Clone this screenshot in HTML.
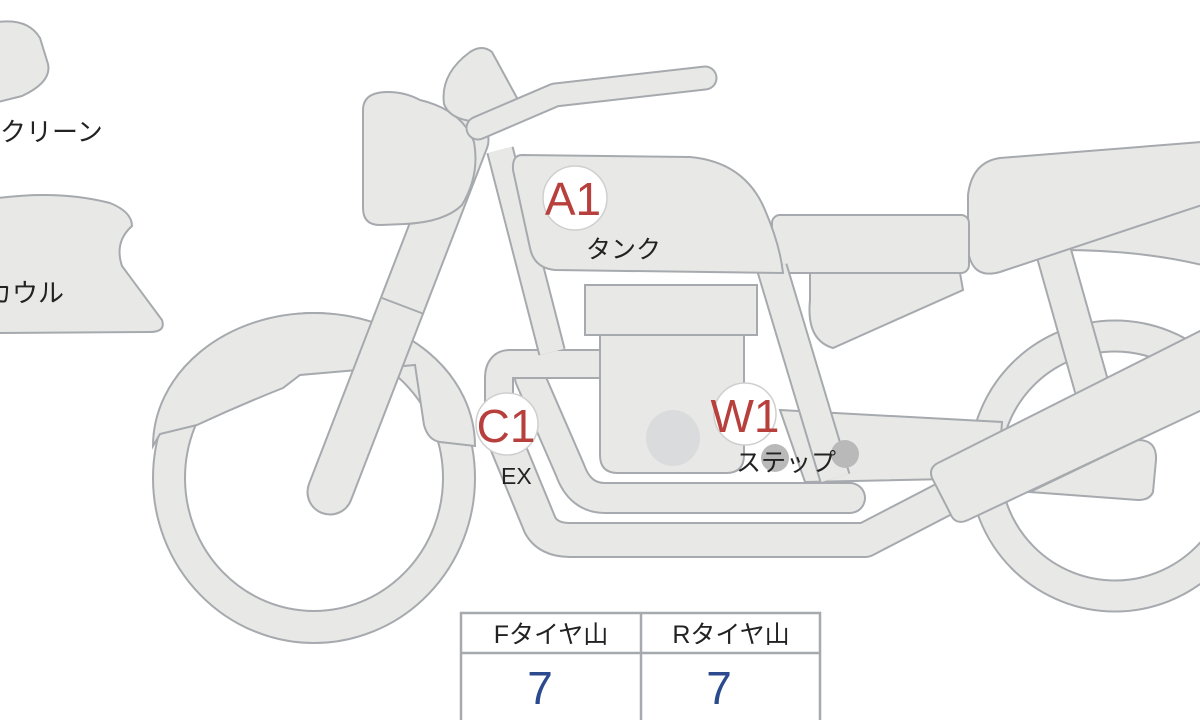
<!DOCTYPE html>
<html><head><meta charset="utf-8">
<style>
html,body{margin:0;padding:0;background:#fff;width:1200px;height:720px;overflow:hidden}
svg{display:block}
.f{fill:#e8e9e6;stroke:#a6aaae;stroke-width:2}
.o{fill:none;stroke:#a6aaae}
.i{fill:none;stroke:#e8e9e6}
.jp{font-family:"Liberation Sans","Noto Sans CJK JP",sans-serif;fill:#222}
.red{font-family:"Liberation Sans",sans-serif;fill:#b8403c}
</style></head><body>
<svg width="1200" height="720" viewBox="0 0 1200 720" xmlns="http://www.w3.org/2000/svg">
<!-- left parts -->
<path class="f" d="M-2,22 Q28,18 40,38 L48,64 Q52,82 22,96 L-2,102 Z"/>
<text class="jp" x="-26" y="141" font-size="26">スクリーン</text>
<path class="f" d="M-2,198 Q60,190 110,203 Q132,212 132,226 Q114,242 122,266 L162,320 Q166,332 150,332 L-2,333 Z"/>
<text class="jp" x="-14" y="302" font-size="26">カウル</text>

<!-- rear wheel -->
<circle class="o" cx="1115" cy="466" r="130" stroke-width="33"/>
<circle class="i" cx="1115" cy="466" r="130" stroke-width="29"/>
<!-- rear fender band -->
<path class="f" d="M1060,250 Q1140,250 1202,265 L1202,200 L1060,245 Z"/>
<!-- shock -->
<path class="o" d="M1053,250 L1092,388" stroke-width="37"/>
<path class="i" d="M1053,250 L1092,388" stroke-width="33"/>
<!-- seat -->
<path class="f" d="M1000,158 L1202,142 L1202,205 L1000,272 Q972,280 968,250 L968,195 Q972,162 1000,158 Z"/>
<!-- side cover -->
<rect class="f" x="772" y="215" width="197" height="58" rx="8"/>
<path class="f" d="M810,273 L960,273 L963,290 L833,348 Q806,340 810,300 Z"/>
<!-- footrest bracket -->
<path class="f" d="M780,410 L1002,422 L998,478 L805,482 Z"/>
<!-- wedge -->
<path class="f" d="M1030,492 L1138,440 Q1157,440 1156,460 L1153,492 Q1150,500 1138,500 Z"/>
<!-- outer exhaust band -->
<path class="o" d="M505,440 L540,525 Q548,540 570,540 L865,540 L1000,470" stroke-width="36" stroke-linejoin="round"/>
<path class="i" d="M505,440 L540,525 Q548,540 570,540 L865,540 L1000,470" stroke-width="32" stroke-linejoin="round"/>
<!-- swingarm -->
<path class="f" d="M940,462 L1202,330 L1202,410 L968,520 Q955,526 950,513 L932,478 Q928,467 940,462 Z"/>
<!-- frame tube right of engine -->
<path class="o" d="M772,268 L835,478" stroke-width="32"/>
<path class="i" d="M772,268 L835,478" stroke-width="28"/>
<!-- lower frame band -->
<path class="o" d="M530,378 L570,470 Q580,498 605,498 L850,498" stroke-width="32" stroke-linecap="round"/>
<path class="i" d="M530,378 L570,470 Q580,498 605,498 L850,498" stroke-width="28" stroke-linecap="round"/>
<!-- upper pipe -->
<path class="o" d="M605,364 L510,364 Q499,364 499,378 L499,445" stroke-width="30"/>
<path class="i" d="M605,364 L510,364 Q499,364 499,378 L499,445" stroke-width="26"/>
<!-- front frame tube -->
<path class="o" d="M500,150 L552,352" stroke-width="28"/>
<path class="i" d="M500,150 L552,352" stroke-width="24"/>
<!-- engine -->
<path class="f" d="M600,330 L744,330 L744,455 Q744,473 726,473 L618,473 Q600,473 600,455 Z"/>
<rect class="f" x="585" y="285" width="172" height="50"/>
<ellipse cx="673" cy="438" rx="27" ry="28" fill="#dadbdd"/>
<!-- front wheel -->
<ellipse class="o" cx="314" cy="478" rx="145" ry="149" stroke-width="34"/>
<ellipse class="i" cx="314" cy="478" rx="145" ry="149" stroke-width="30"/>
<!-- front fender -->
<path class="f" d="M153,446 A161,133 0 0 1 475,446 L440,442 Q428,440 424,425 L415,365 L300,375 L283,388 Q240,405 197,425 L160,434 Z"/>
<!-- fork -->
<path class="o" d="M330,492 L466,140" stroke-width="47" stroke-linecap="round"/>
<path class="i" d="M330,492 L466,140" stroke-width="43" stroke-linecap="round"/>
<line x1="382" y1="298" x2="424" y2="314" stroke="#a6aaae" stroke-width="2"/>
<!-- headlight -->
<path class="f" d="M388,92 Q405,92 420,100 Q462,110 474,142 Q480,175 462,205 Q445,222 405,224 L380,225 Q363,225 363,208 L363,110 Q363,92 388,92 Z"/>
<!-- mirror blob -->
<path class="f" d="M470,52 Q482,44 492,52 L517,98 Q522,118 495,121 Q452,125 444,104 Q440,74 470,52 Z"/>
<!-- handlebar -->
<path class="o" d="M478,128 L555,95 L705,78" stroke-width="25" stroke-linejoin="round" stroke-linecap="round"/>
<path class="i" d="M478,128 L555,95 L705,78" stroke-width="21" stroke-linejoin="round" stroke-linecap="round"/>
<!-- tank -->
<path class="f" d="M522,155 L690,157 Q745,162 765,210 Q780,245 783,273 L555,270 Q534,268 530,248 L513,170 Q512,155 522,155 Z"/>

<!-- labels -->
<circle cx="575" cy="198" r="32" fill="#fff" stroke="#cfcfcf" stroke-width="1.5"/>
<text class="red" x="573" y="215" font-size="46" text-anchor="middle">A1</text>
<text class="jp" x="586" y="258" font-size="25">タンク</text>

<circle cx="507" cy="424" r="31" fill="#fff" stroke="#cfcfcf" stroke-width="1.5"/>
<text class="red" x="506" y="442" font-size="46" text-anchor="middle">C1</text>
<text class="jp" x="501" y="484" font-size="23">EX</text>

<circle cx="745" cy="414" r="31" fill="#fff" stroke="#cfcfcf" stroke-width="1.5"/>
<circle cx="775" cy="458" r="14" fill="#b9b9b9"/>
<circle cx="845" cy="454" r="14" fill="#b9b9b9"/>
<text class="red" x="745" y="432" font-size="46" text-anchor="middle">W1</text>
<text class="jp" x="736" y="471" font-size="25">ステップ</text>

<!-- table -->
<rect x="461" y="613" width="359" height="110" fill="#fff" stroke="#a6aaae" stroke-width="2.5"/>
<line x1="461" y1="653" x2="820" y2="653" stroke="#a6aaae" stroke-width="2.5"/>
<line x1="641" y1="613" x2="641" y2="720" stroke="#a6aaae" stroke-width="2.5"/>
<text class="jp" x="551" y="643" font-size="25" text-anchor="middle">Fタイヤ山</text>
<text class="jp" x="731" y="643" font-size="25" text-anchor="middle">Rタイヤ山</text>
<text x="540" y="704" font-size="46" text-anchor="middle" fill="#2c4a8e" font-family="Liberation Sans,sans-serif">7</text>
<text x="719" y="704" font-size="46" text-anchor="middle" fill="#2c4a8e" font-family="Liberation Sans,sans-serif">7</text>
</svg>
</body></html>
